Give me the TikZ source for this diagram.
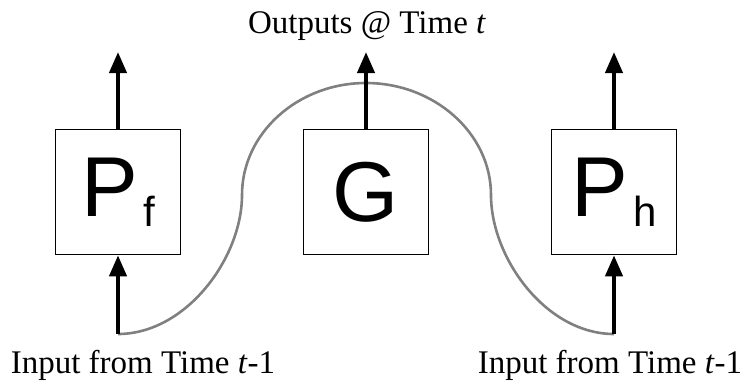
\documentclass[tikz,border=0pt]{standalone}
\usepackage{fontspec}
\setmainfont{Liberation Serif}
\newfontfamily\arialfont{Liberation Sans}
\usetikzlibrary{arrows.meta, positioning}

\newcommand{\boxsub}[1]{\hspace{5pt}\raisebox{-10pt}{\fontsize{42}{42}\selectfont #1}}

\begin{document}
\begin{tikzpicture}[x=1pt, y=-1pt,
    block/.style={draw, line width=1.6pt, minimum size=125pt, inner sep=0pt, font=\arialfont\fontsize{85}{85}\selectfont},
    flow/.style={line width=4pt, -{Triangle[length=21pt,width=17pt]}},
    carry/.style={draw=black!50, line width=2.6pt},
    lbl/.style={font=\fontsize{33}{33}\selectfont, anchor=base, inner sep=0pt}]
            \useasboundingbox (0,0) rectangle (747,381);

            % Define nodes
            \node[block] (pf) at (118,192) {P\boxsub{f}};
            \node[block] (g) at (366,192) {G};
            \node[block] (ph) at (614,192) {P\boxsub{h}};

            \coordinate (pfout) at (118,52);
            \coordinate (gout) at (366,52);
            \coordinate (phout) at (614,52);
            \coordinate (pfin) at (118,334);
            \coordinate (phin) at (614,334);

            \node[lbl] (outlbl) at (367,33) {Outputs @ Time \textit{t}};
            \node[lbl] (inlblf) at (143,373) {Input from Time \textit{t}-1};
            \node[lbl] (inlblh) at (610,373) {Input from Time \textit{t}-1};

            % Draw edges
            \draw[carry] (pfin) .. controls (186,334) and (242,258) .. (242,195)
                .. controls (242,133) and (298,83) .. (366,83)
                .. controls (434,83) and (491,133) .. (491,195)
                .. controls (491,258) and (546,334) .. (phin);

            \draw[flow] (pf.north) -- (pfout);
            \draw[flow] (g.north) -- (gout);
            \draw[flow] (ph.north) -- (phout);
            \draw[flow] (pfin) -- (pf.south);
            \draw[flow] (phin) -- (ph.south);

\end{tikzpicture}
\end{document}
